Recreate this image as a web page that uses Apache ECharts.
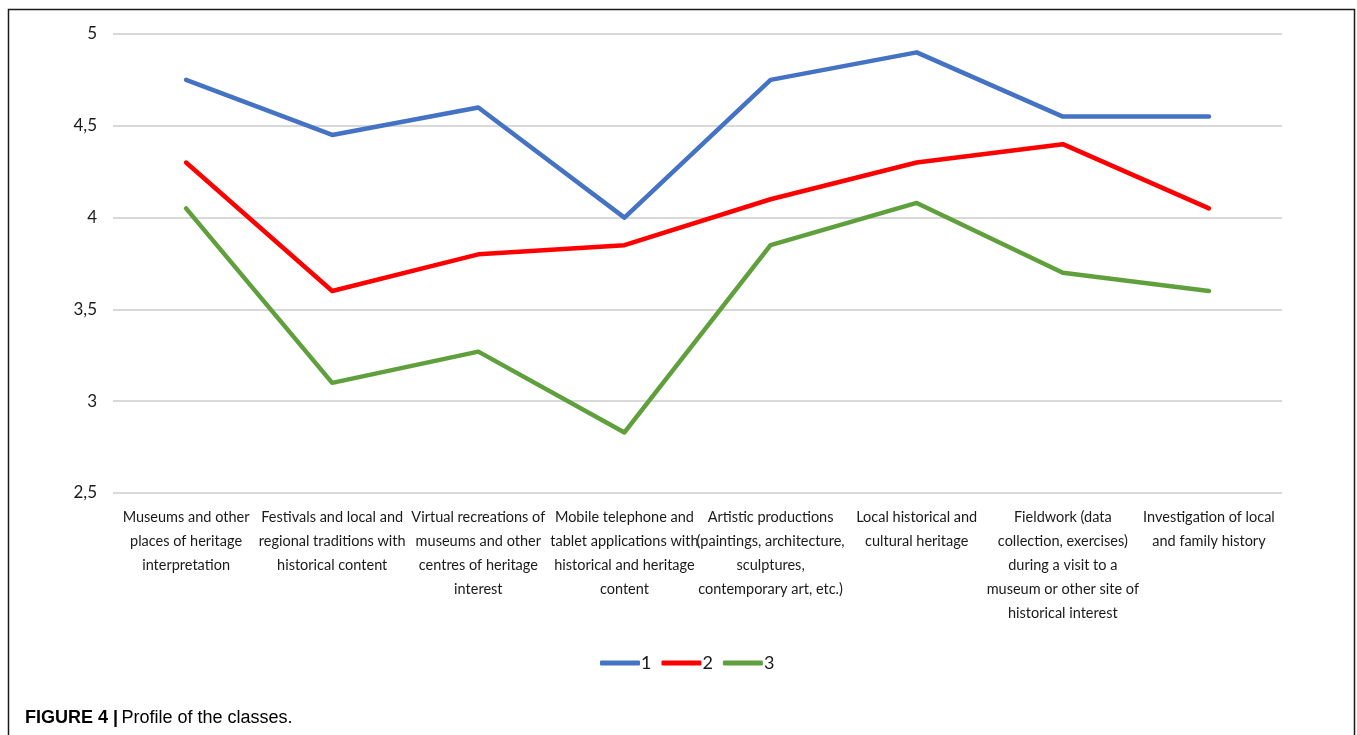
<!DOCTYPE html>
<html>
<head>
<meta charset="utf-8">
<script src="https://cdn.jsdelivr.net/npm/echarts@6/dist/echarts.min.js"></script>
<style>
  html, body { margin: 0; padding: 0; background: #fff; }
  #chart { width: 1357px; height: 735px; }
</style>
</head>
<body>
<div id="chart"></div>
<script>
const categories = [
  "Museums and other\nplaces of heritage\ninterpretation",
  "Festivals and local and\nregional traditions with\nhistorical content",
  "Virtual recreations of\nmuseums and other\ncentres of heritage\ninterest",
  "Mobile telephone and\ntablet applications with\nhistorical and heritage\ncontent",
  "Artistic productions\n(paintings, architecture,\nsculptures,\ncontemporary art, etc.)",
  "Local historical and\ncultural heritage",
  "Fieldwork (data\ncollection, exercises)\nduring a visit to a\nmuseum or other site of\nhistorical interest",
  "Investigation of local\nand family history"
];
const class1 = [4.75, 4.45, 4.6, 4.0, 4.75, 4.9, 4.55, 4.55];
const class2 = [4.3, 3.6, 3.8, 3.85, 4.1, 4.3, 4.4, 4.05];
const class3 = [4.05, 3.1, 3.27, 2.83, 3.85, 4.08, 3.7, 3.6];
const seriesNames = ["1", "2", "3"];
const colors = ["#4472c4", "#ff0000", "#5fa03c"];

const labelFont = "Lato, 'DejaVu Sans Condensed', sans-serif";

const chart = echarts.init(document.getElementById("chart"));

const makeLine = (name, data, color) => ({
  name,
  type: "line",
  data,
  symbol: "none",
  color,
  lineStyle: { width: 4.5, color, cap: "round", join: "round" }
});

chart.setOption({
  backgroundColor: "#fff",
  animation: false,
  grid: { left: 113, right: 75, top: 34, bottom: 242 },
  legend: {
    top: 649,
    left: 595,
    icon: "roundRect",
    itemWidth: 40,
    itemHeight: 5,
    itemGap: 10,
    textStyle: { fontFamily: labelFont, fontSize: 18, color: "#1a1a1a", padding: [0, 0, 0, -4] },
    data: seriesNames
  },
  xAxis: {
    type: "category",
    data: categories,
    boundaryGap: true,
    axisLine: { show: false },
    axisTick: { show: false },
    axisLabel: {
      interval: 0,
      margin: 12,
      fontFamily: labelFont,
      fontSize: 14.5,
      lineHeight: 24,
      color: "#1a1a1a",
      verticalAlign: "top"
    }
  },
  yAxis: {
    type: "value",
    min: 2.5,
    max: 5,
    interval: 0.5,
    axisLine: { show: false },
    axisTick: { show: false },
    axisLabel: {
      margin: 16,
      fontFamily: labelFont,
      fontSize: 17,
      color: "#1a1a1a",
      formatter: (v) => String(v).replace(".", ",")
    },
    splitLine: { lineStyle: { color: "#d9d9d9", width: 2 } }
  },
  series: [
    makeLine(seriesNames[0], class1, colors[0]),
    makeLine(seriesNames[1], class2, colors[1]),
    makeLine(seriesNames[2], class3, colors[2])
  ],
  graphic: [
    {
      type: "rect",
      shape: { x: 8.5, y: 9.5, width: 1346, height: 800 },
      style: { fill: "none", stroke: "#1a1a1a", lineWidth: 1.5 },
      silent: true
    },
    {
      type: "text",
      left: 25,
      top: 709,
      style: {
        text: "{b|FIGURE 4 |} {r|Profile of the classes.}",
        rich: {
          b: { fontFamily: "'Liberation Sans', Arial, sans-serif", fontWeight: "bold", fontSize: 18, color: "#333" },
          r: { fontFamily: "'Liberation Sans', Arial, sans-serif", fontSize: 18, color: "#333" }
        }
      }
    }
  ]
});
</script>
</body>
</html>
